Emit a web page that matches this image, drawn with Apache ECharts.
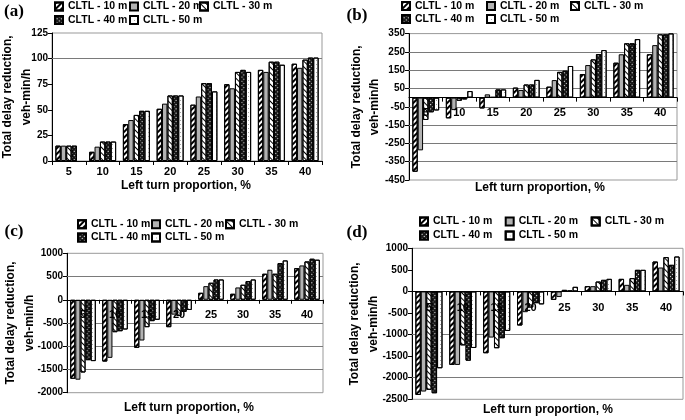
<!DOCTYPE html>
<html><head><meta charset="utf-8">
<script src="https://cdn.jsdelivr.net/npm/echarts@6/dist/echarts.min.js"></script>
<style>html,body{margin:0;padding:0;background:#fff}#c{width:685px;height:420px}</style>
</head><body><div id="c"></div>
<script>
const categories = ['5','10','15','20','25','30','35','40'];
const seriesNames = ['CLTL - 10 m','CLTL - 20 m','CLTL - 30 m','CLTL - 40 m','CLTL - 50 m'];

// Panel (a)
const a10 = [15, 9, 36, 51, 55, 75, 89, 95];
const a20 = [15, 14, 40, 56, 63, 71, 87, 91];
const a30 = [15, 19, 45, 64, 76, 87, 97, 99];
const a40 = [15, 19, 49, 64, 76, 89, 97, 101];
const a50 = [null, 19, 49, 64, 68, 87, 94, 101];
// Panel (b)
const b10 = [-405, -113, -59, 55, 60, 129, 191, 237];
const b20 = [-288, -68, 18, 42, 96, 178, 237, 287];
const b30 = [-122, -17, 3, 72, 141, 209, 297, 346];
const b40 = [-80, -10, 45, 72, 147, 238, 297, 346];
const b50 = [-70, 36, 45, 97, 173, 260, 320, 351];
// Panel (c)
const c10 = [-1700, -1330, -1035, -590, 150, 129, 560, 681];
const c20 = [-1720, -1250, -877, -320, 293, 265, 646, 739];
const c30 = [-1565, -698, -590, -350, 366, 323, 560, 825];
const c40 = [-1300, -677, -460, -260, 437, 401, 789, 883];
const c50 = [-1320, -640, -431, -220, 437, 437, 847, 862];
// Panel (d)
const d10 = [-2400, -1703, -1432, -790, -195, 122, 292, 694];
const d20 = [-2320, -1703, -1069, -481, -130, 122, 153, 555];
const d30 = [-2280, -1250, -1316, -373, 37, 230, 308, 796];
const d40 = [-2360, -1605, -1084, -272, 20, 269, 501, 617];
const d50 = [-1780, -1310, -915, -300, 107, 292, 501, 810];

// Axis ranges / tick steps
const yMin = [0, -450, -2000, -2500];
const yMax = [125, 350, 1000, 1000];
const yStep = [25, 100, 500, 500];
// Horizontal gridlines drawn in each panel
const gridA = [100];
const gridB = [250, 150, 50, -50, -150, -250, -350];
const gridC = [500, -500, -1000, -1500];
const gridD = [-1000, -2000];

const panelLabels = ['(a)', '(b)', '(c)', '(d)'];
const yName1 = 'Total delay reduction,';
const yName2 = 'veh-min/h';
const xName = 'Left turn proportion, %';

const panelData = [[a10,a20,a30,a40,a50],[b10,b20,b30,b40,b50],[c10,c20,c30,c40,c50],[d10,d20,d30,d40,d50]];
const panelGrid = [gridA, gridB, gridC, gridD];

const layout = [
  {left:52, top:33, width:270, height:128, labelMargin:5, title:[14,12], yn:[8,27,97], xn:[186,186], leg:[[57,132,202],[8,21.5]]},
  {left:409, top:33.6, width:268, height:146.4, labelMargin:10, title:[357,16], yn:[357,375,107], xn:[540,188], leg:[[404,489,573],[7.5,20.5]]},
  {left:67, top:253.3, width:256, height:139.4, labelMargin:10, title:[14,232], yn:[11,30,323], xn:[189,408], leg:[[80,154,228],[225.7,239]]},
  {left:412, top:248.3, width:271, height:151, labelMargin:11, title:[357,233], yn:[355,374,324], xn:[548,410], leg:[[422,507.7,593.7],[223,237]]}
];

const styles = [
  {color:'#fff', borderColor:'#000', borderWidth:1, decal:{symbol:'rect', color:'#000', dashArrayX:[1,0], dashArrayY:[2,2], rotation:-Math.PI/4, symbolSize:1}},
  {color:'#b2b2b2', borderColor:'#000', borderWidth:1},
  {color:'#fff', borderColor:'#000', borderWidth:1, decal:{symbol:'rect', color:'#000', dashArrayX:[1,0], dashArrayY:[1,2.5], rotation:Math.PI/4, symbolSize:1}},
  {color:'#1a1a1a', borderColor:'#000', borderWidth:1, decal:{symbol:'rect', color:'#fff', dashArrayX:[1,2], dashArrayY:[1,2], rotation:Math.PI/4, symbolSize:1}},
  {color:'#fff', borderColor:'#000', borderWidth:1, decal:{symbol:'circle', color:'#888', dashArrayX:[1,3], dashArrayY:[1,3], symbolSize:1}}
];

const FONT = 'Liberation Sans, Arial, sans-serif';
const grids = [], xAxes = [], yAxes = [], series = [], legends = [], graphics = [];

layout.forEach((L, p) => {
  grids.push({left:L.left, top:L.top, width:L.width, height:L.height, show:true, borderColor:'#999', borderWidth:1, backgroundColor:'transparent', outerBoundsMode:'none', containLabel:false});
  // place the category axis on the value 0 of this panel's value axis
  const zeroOffset = -(0 - yMin[p]) / (yMax[p] - yMin[p]) * L.height;
  xAxes.push({type:'category', gridIndex:p, data:categories, position:'bottom', offset:zeroOffset, z:5,
    axisLine:{onZero:false, lineStyle:{color:'#000', width:1}},
    axisTick:{show:true, length:4, lineStyle:{color:'#000'}},
    axisLabel:{color:'#000', fontSize:11, fontWeight:'bold', fontFamily:FONT, margin:L.labelMargin},
    splitLine:{show:false}});
  yAxes.push({type:'value', gridIndex:p, min:yMin[p], max:yMax[p], interval:yStep[p],
    axisLine:{show:true, onZero:false, lineStyle:{color:'#000', width:1}},
    axisTick:{show:true, length:4, lineStyle:{color:'#000'}},
    axisLabel:{color:'#000', fontSize:10, fontWeight:'bold', fontFamily:FONT, margin:4, formatter: v => String(v)},
    splitLine:{show:false}});
  panelData[p].forEach((arr, s) => {
    const ser = {type:'bar', name:seriesNames[s], xAxisIndex:p, yAxisIndex:p, data:arr,
      barGap:'0%', barCategoryGap:'20%', itemStyle:styles[s], emphasis:{disabled:true}};
    if (s === 0) {
      ser.markLine = {silent:true, symbol:'none', z:1, label:{show:false},
        lineStyle:{color:'#7a7a7a', width:1, type:'solid'},
        data: panelGrid[p].map(v => ({yAxis:v}))};
    }
    series.push(ser);
    const col = s < 3 ? s : s - 3;
    const row = s < 3 ? 0 : 1;
    legends.push({data:[seriesNames[s]], left:L.leg[0][col]-3, top:L.leg[1][row]-7, padding:0,
      icon:'rect', itemWidth:8, itemHeight:8, selectedMode:false,
      textStyle:{fontSize:10.5, fontWeight:'bold', fontFamily:FONT, color:'#000'}});
  });
  graphics.push({type:'text', x:L.title[0], y:L.title[1], style:{text:panelLabels[p], font:'bold 17px "Liberation Serif", "Times New Roman", serif', fill:'#000', textAlign:'center', textVerticalAlign:'middle'}});
  graphics.push({type:'text', x:L.yn[0], y:L.yn[2], rotation:Math.PI/2, style:{text:yName1, font:'bold 12px ' + FONT, fill:'#000', textAlign:'center', textVerticalAlign:'middle'}});
  graphics.push({type:'text', x:L.yn[1], y:L.yn[2], rotation:Math.PI/2, style:{text:yName2, font:'bold 12px ' + FONT, fill:'#000', textAlign:'center', textVerticalAlign:'middle'}});
  graphics.push({type:'text', x:L.xn[0], y:L.xn[1], style:{text:xName, font:'bold 12px ' + FONT, fill:'#000', textAlign:'center', textVerticalAlign:'middle'}});
});

const chart = echarts.init(document.getElementById('c'), null, {renderer:'canvas'});
chart.setOption({
  animation:false,
  backgroundColor:'#fff',
  grid:grids, xAxis:xAxes, yAxis:yAxes, series:series, legend:legends, graphic:graphics
});
</script>
</body></html>
